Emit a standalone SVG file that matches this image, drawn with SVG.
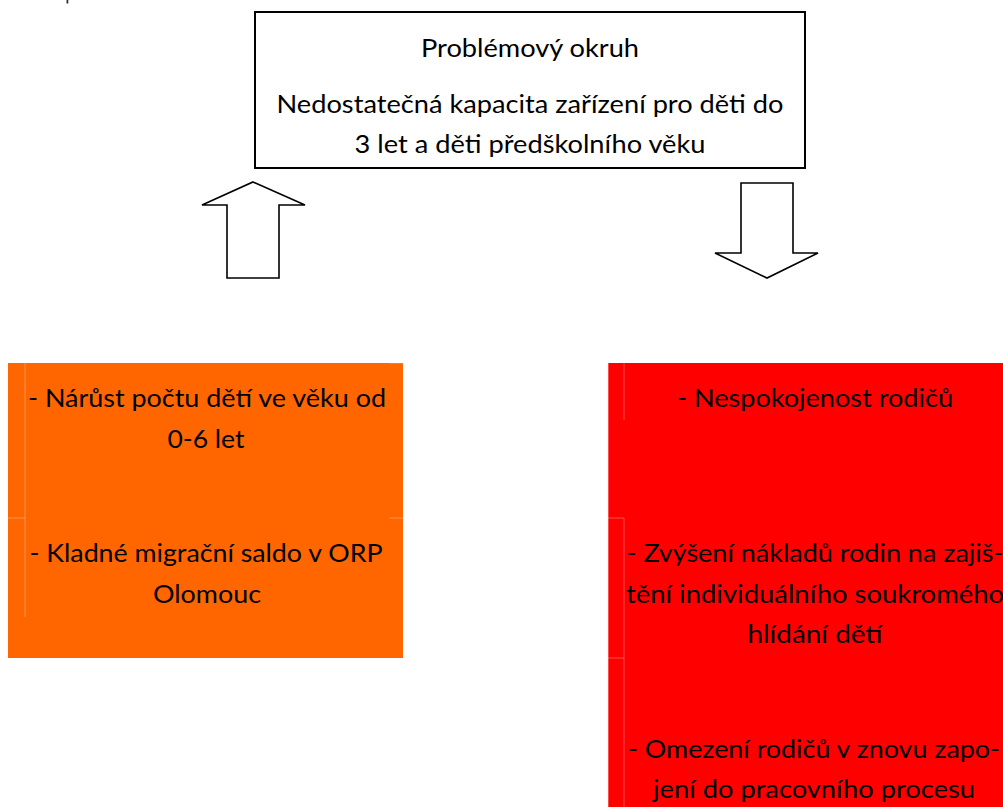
<svg xmlns="http://www.w3.org/2000/svg" width="1003" height="807" viewBox="0 0 1003 807">
<style>
  .t { font-family: Lato, "Open Sans", "Liberation Sans", sans-serif; font-size: 25px; fill: #000; text-anchor: middle; }
  .arrow { fill: #fff; stroke: #000; stroke-width: 1.6; stroke-linejoin: miter; }
  .cell { stroke: #ffffff; stroke-opacity: 0.3; stroke-width: 1; fill: none; }
</style>
<rect width="1003" height="807" fill="#fff"/>
<rect x="66.5" y="0" width="1.8" height="3.5" fill="#333"/>

<g id="problem">
  <rect x="255" y="12" width="550" height="156" fill="#fff" stroke="#000" stroke-width="2"/>
  <text class="t" x="530" y="57" textLength="218" lengthAdjust="spacingAndGlyphs">Problémový okruh</text>
  <text class="t" x="530" y="113" textLength="507" lengthAdjust="spacingAndGlyphs">Nedostatečná kapacita zařízení pro děti do</text>
  <text class="t" x="530" y="153" textLength="351" lengthAdjust="spacingAndGlyphs">3 let a děti předškolního věku</text>
</g>

<g id="connectors">
  <polygon class="arrow" points="253,182 305,205 279,205 279,278 227,278 227,205 202,205"/>
  <polygon class="arrow" points="741,183 793,183 793,253 818,253 767,278 715,253 741,253"/>
</g>

<g id="causes">
  <rect x="8" y="363" width="395" height="295" fill="#ff6600"/>
  <path class="cell" d="M25,363 V617 M8,518 H25 M389,518 H403 M389,363 H403"/>
  <text class="t" x="207" y="407" textLength="358" lengthAdjust="spacingAndGlyphs">- Nárůst počtu dětí ve věku od</text>
  <text class="t" x="206" y="448" textLength="77" lengthAdjust="spacingAndGlyphs">0-6 let</text>
  <text class="t" x="206" y="562" textLength="353" lengthAdjust="spacingAndGlyphs">- Kladné migrační saldo v ORP</text>
  <text class="t" x="207" y="603" textLength="108" lengthAdjust="spacingAndGlyphs">Olomouc</text>
</g>

<g id="effects">
  <rect x="608" y="363" width="400" height="450" fill="#ff0000"/>
  <path class="cell" d="M608.5,363 V807 M624,363 V420 M624,518 V807 M608,518 H624 M608,658 H624"/>
  <text class="t" x="815" y="407" textLength="276" lengthAdjust="spacingAndGlyphs">- Nespokojenost rodičů</text>
  <text class="t" x="815" y="562" textLength="377" lengthAdjust="spacingAndGlyphs">- Zvýšení nákladů rodin na zajiš-</text>
  <text class="t" x="815" y="603" textLength="378" lengthAdjust="spacingAndGlyphs">tění individuálního soukromého</text>
  <text class="t" x="815" y="643" textLength="135" lengthAdjust="spacingAndGlyphs">hlídání dětí</text>
  <text class="t" x="814" y="758" textLength="372" lengthAdjust="spacingAndGlyphs">- Omezení rodičů v znovu zapo-</text>
  <text class="t" x="814" y="798" textLength="322" lengthAdjust="spacingAndGlyphs">jení do pracovního procesu</text>
</g>
</svg>
